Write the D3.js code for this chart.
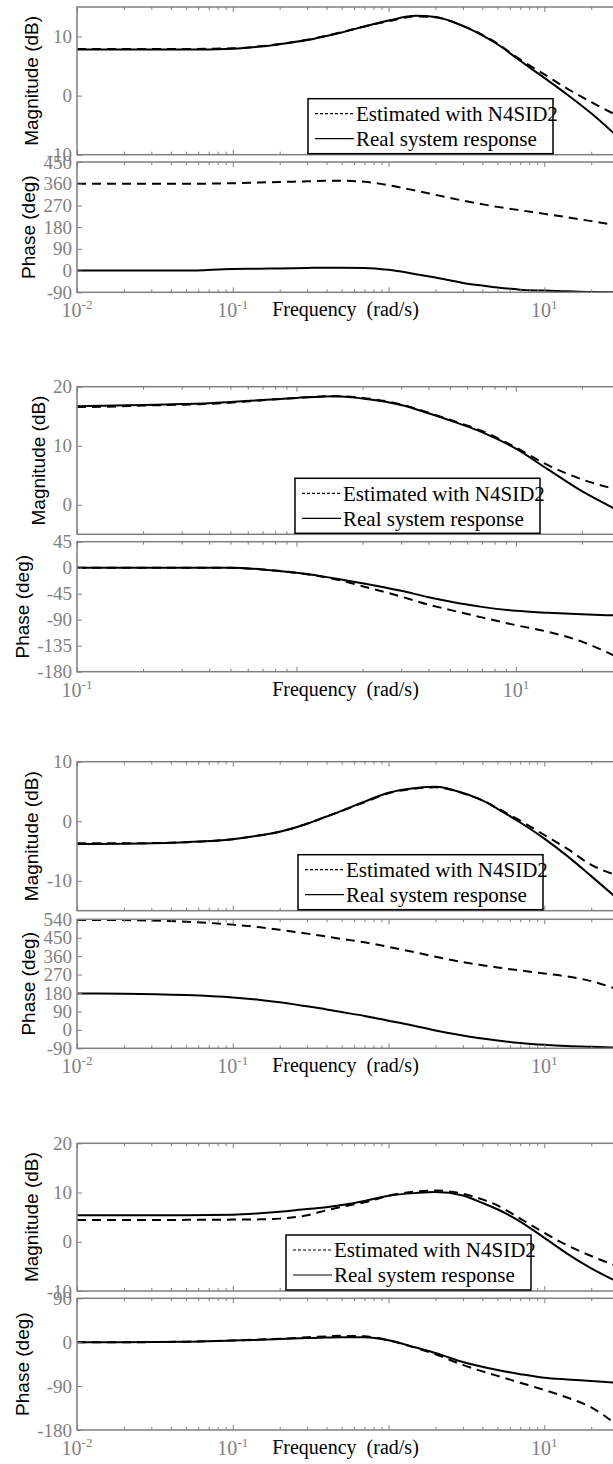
<!DOCTYPE html>
<html>
<head>
<meta charset="utf-8">
<title>N4SID2 vs real system - Bode plots</title>
<script src="https://cdn.jsdelivr.net/npm/d3@7/dist/d3.min.js"></script>
<style>
  body { margin: 0; background: #fff; }
  svg { display: block; background: #fff; }
</style>
</head>
<body>
<svg id="chart" width="613" height="1464"></svg>
<script>
// frequency grids (rad/s)
const freqA = [0.01, 0.02, 0.05, 0.1, 0.15, 0.2, 0.3, 0.4, 0.5, 0.7, 1, 1.5, 2, 3, 4, 5, 7, 10, 14, 20, 28]
const freqB = [0.1, 0.15, 0.2, 0.3, 0.4, 0.5, 0.7, 1, 1.5, 2, 3, 4, 5, 7, 10, 14, 20, 28]

// plot 1 (freqA)
const mag1Est  = [7.9, 7.9, 7.9, 8.0, 8.35, 8.75, 9.45, 10.15, 10.75, 11.7, 12.6, 13.4, 13.25, 11.8, 10.3, 8.8, 6.1, 3.6, 1.2, -1.1, -3.1]
const mag1Real = [7.8, 7.8, 7.8, 7.95, 8.3, 8.7, 9.4, 10.1, 10.7, 11.7, 12.7, 13.5, 13.3, 11.8, 10.2, 8.7, 5.9, 3.0, 0.2, -3.0, -6.4]
const ph1Est   = [360, 360, 360, 362, 365, 367, 370, 372, 372, 368, 354, 331, 314, 290, 275, 264, 250, 235, 221, 205, 189]
const ph1Real  = [0, 0, 0, 7, 8, 9, 11, 12, 12, 11, 3, -15, -29, -51, -62, -70, -79, -83, -86, -89, -90]

// plot 2 (freqB)
const mag2Est  = [16.55, 16.65, 16.8, 16.95, 17.1, 17.3, 17.7, 18.1, 18.4, 18.1, 17.0, 15.6, 14.4, 12.5, 9.7, 6.7, 4.3, 2.7]
const mag2Real = [16.7, 16.8, 16.9, 17.05, 17.2, 17.4, 17.75, 18.1, 18.4, 18.0, 16.9, 15.5, 14.3, 12.3, 9.5, 6.0, 2.3, -0.6]
const ph2Est   = [0, 0, 0, 0, 0, -0.3, -3, -9, -20, -32, -50, -64, -73, -86, -99.5, -111, -128, -152]
const ph2Real  = [0, 0, 0, 0, 0, -0.3, -3, -8.8, -18.5, -26.8, -40, -51, -58.4, -67.8, -74.7, -78, -80.6, -82.5]

// plot 3 (freqA)
const mag3Est  = [-3.7, -3.7, -3.5, -3.0, -2.35, -1.75, -0.4, 0.8, 1.75, 3.2, 4.7, 5.5, 5.7, 4.7, 3.5, 2.2, 0.1, -2.3, -4.6, -7.3, -8.9]
const mag3Real = [-3.8, -3.75, -3.5, -3.0, -2.35, -1.75, -0.4, 0.8, 1.75, 3.3, 4.8, 5.6, 5.8, 4.75, 3.5, 2.1, -0.2, -2.9, -5.8, -9.2, -12.5]
const ph3Est   = [537, 536, 528, 514, 501, 489, 470, 456, 444, 428, 405, 378, 357, 331, 316, 305, 290, 275, 261, 238, 204]
const ph3Real  = [178, 177, 170, 158, 146, 135, 115, 100, 87, 68, 45, 18, -3, -27, -42, -52, -64, -73, -79, -83, -86]

// plot 4 (freqA)
const mag4Est  = [4.4, 4.4, 4.45, 4.5, 4.55, 4.7, 5.4, 6.4, 7.1, 8.0, 9.35, 10.2, 10.4, 9.75, 8.6, 7.4, 4.7, 1.8, -0.7, -2.9, -4.7]
const mag4Real = [5.4, 5.4, 5.4, 5.5, 5.8, 6.1, 6.65, 7.0, 7.45, 8.3, 9.35, 9.9, 10.1, 9.4, 7.9, 6.6, 4.1, 0.8, -2.4, -5.4, -7.8]
const ph4Est   = [0, 0, 1, 3.5, 5.5, 7, 10, 12, 13, 12, 4, -12, -25, -46.6, -59.8, -69, -83, -98, -113.5, -133.5, -165]
const ph4Real  = [0, 0, 1, 3.5, 5, 6.5, 8.5, 9.5, 10, 10, 4, -11, -22, -40.5, -50.5, -57, -65.5, -73, -76.5, -79.6, -83]

// axis limits and labelled ticks
const magLim   = [[-10, 15], [-5, 20], [-15, 10], [-10, 20]]
const magTicks = [[-10, 0, 10], [0, 10, 20], [-10, 0, 10], [-10, 0, 10, 20]]
const phLim    = [[-90, 450], [-180, 45], [-90, 540], [-180, 90]]
const phTicks  = [[-90, 0, 90, 180, 270, 360, 450],
                  [-180, -135, -90, -45, 0, 45],
                  [-90, 0, 90, 180, 270, 360, 450, 540],
                  [-180, -90, 0, 90]]
const freqLabelTicks = [[0.01, 0.1, 10], [0.1, 10], [0.01, 0.1, 10], [0.01, 0.1, 10]]
const freqMax = 28
const legendNames = ["Estimated with N4SID2", "Real system response"]

// layout of the four figures
const layout = [
    {magTop: 7,      magBot: 154.7, phTop: 162,    phBot: 292.3,  legX: 308},
    {magTop: 386.7,  magBot: 534.3, phTop: 541.7,  phBot: 671.7,  legX: 295},
    {magTop: 761.7,  magBot: 910.7, phTop: 919.3,  phBot: 1048.3, legX: 298},
    {magTop: 1143.3, magBot: 1291,  phTop: 1298.3, phBot: 1430,   legX: 286}
]
const xLeft = 77, xRight = 614
const grey = "#7f7f7f"
const serif = "'Liberation Serif', 'Times New Roman', serif"
const sans = "'Liberation Sans', Arial, sans-serif"

let svg = d3.select("#chart")

const isDecade = v => Math.abs(Math.log10(v) - Math.round(Math.log10(v))) < 1e-6

const setFont = (sel, family, size) => sel
    .style("font-family", family)
    .style("font-size", size + "px")

const drawAxes = (x, y, yTicks, freq, series, ylabel, id) => {
    let bottom = y.range()[0], top = y.range()[1]
    let g = svg.append("g").attr("class", "axes")

    g.append("clipPath").attr("id", id)
        .append("rect")
        .attr("x", xLeft).attr("y", top)
        .attr("width", xRight - xLeft).attr("height", bottom - top)

    let line = d3.line()
        .curve(d3.curveMonotoneX)
        .x(d => x(d.f))
        .y(d => y(d.v))

    // series[0] = estimate (dashed), series[1] = real (solid)
    series.forEach((s, k) => {
        g.append("path")
            .datum(freq.map((f, j) => ({f: f, v: s[j]})))
            .attr("clip-path", "url(#" + id + ")")
            .attr("d", line)
            .attr("fill", "none")
            .attr("stroke", "#000")
            .attr("stroke-width", 2)
            .attr("stroke-dasharray", k == 0 ? "9,6" : null)
    })

    // inward log ticks on bottom and top edges
    let minor = x.ticks().filter(v => !isDecade(v))
    let major = x.ticks().filter(isDecade)
    const tickRow = (axisFn, pos, values, size) => g.append("g")
        .attr("transform", "translate(0," + pos + ")")
        .call(axisFn(x).tickValues(values).tickSize(size).tickFormat(""))
        .call(a => a.select(".domain").remove())
        .call(a => a.selectAll("line").attr("stroke", grey))
    tickRow(d3.axisBottom, bottom, minor, -3)
    tickRow(d3.axisBottom, bottom, major, -5)
    tickRow(d3.axisTop, top, minor, -3)
    tickRow(d3.axisTop, top, major, -5)

    let yAxis = g.append("g")
        .attr("transform", "translate(" + xLeft + ",0)")
        .call(d3.axisLeft(y).tickValues(yTicks).tickSize(-5).tickPadding(5).tickFormat(d => String(d)))
    yAxis.select(".domain").remove()
    yAxis.selectAll("line").attr("stroke", grey)
    setFont(yAxis.selectAll("text").attr("fill", grey), serif, 19)

    g.append("rect")
        .attr("x", xLeft).attr("y", top)
        .attr("width", xRight - xLeft).attr("height", bottom - top)
        .attr("fill", "none")
        .attr("stroke", grey)
        .attr("stroke-width", 1.5)

    let bb = yAxis.node().getBBox()
    let lab = g.append("text")
        .attr("transform", "translate(" + (xLeft + bb.x - 15) + "," + (top + bottom) / 2 + ") rotate(-90)")
        .attr("text-anchor", "middle")
        .attr("dy", "0.35em")
        .attr("fill", "#000")
        .text(ylabel)
    setFont(lab, sans, 19)
}

const drawLegend = (lx, ly) => {
    let lg = svg.append("g").attr("transform", "translate(" + lx + "," + ly + ")")
    lg.append("rect")
        .attr("width", 245).attr("height", 55)
        .attr("fill", "#fff")
        .attr("stroke", "#000")
        .attr("stroke-width", 1.5)
    legendNames.forEach((name, k) => {
        let cy = 15 + k * 25
        lg.append("line")
            .attr("x1", 7).attr("x2", 46)
            .attr("y1", cy).attr("y2", cy)
            .attr("stroke", "#000")
            .attr("stroke-width", 1.2)
            .attr("stroke-dasharray", k == 0 ? "3,2" : null)
        let t = lg.append("text")
            .attr("x", 48).attr("y", cy)
            .attr("dy", "0.35em")
            .attr("fill", "#000")
            .text(name)
        setFont(t, serif, 21)
    })
}

const figures = [
    {freq: freqA, mag: [mag1Est, mag1Real], ph: [ph1Est, ph1Real]},
    {freq: freqB, mag: [mag2Est, mag2Real], ph: [ph2Est, ph2Real]},
    {freq: freqA, mag: [mag3Est, mag3Real], ph: [ph3Est, ph3Real]},
    {freq: freqA, mag: [mag4Est, mag4Real], ph: [ph4Est, ph4Real]}
]

figures.forEach((fig, i) => {
    let L = layout[i]
    let x = d3.scaleLog().domain([fig.freq[0], freqMax]).range([xLeft, xRight])
    let yMag = d3.scaleLinear().domain(magLim[i]).range([L.magBot, L.magTop])
    let yPh = d3.scaleLinear().domain(phLim[i]).range([L.phBot, L.phTop])

    drawAxes(x, yMag, magTicks[i], fig.freq, fig.mag, "Magnitude (dB)", "clip-mag" + i)
    drawAxes(x, yPh, phTicks[i], fig.freq, fig.ph, "Phase (deg)", "clip-ph" + i)
    drawLegend(L.legX, L.magBot - 56)

    // decade labels under the phase plot
    freqLabelTicks[i].forEach(v => {
        let t = svg.append("text")
            .attr("x", x(v))
            .attr("y", L.phBot + 25)
            .attr("text-anchor", "middle")
            .attr("fill", grey)
        setFont(t, serif, 20)
        t.append("tspan").text("10")
        t.append("tspan")
            .attr("dy", -8)
            .style("font-size", "13px")
            .text(Math.round(Math.log10(v)))
    })

    let xl = svg.append("text")
        .attr("x", (xLeft + xRight) / 2)
        .attr("y", L.phBot + 24)
        .attr("text-anchor", "middle")
        .attr("fill", "#000")
        .text("Frequency\u00a0 (rad/s)")
    setFont(xl, serif, 20)
})
</script>
</body>
</html>
